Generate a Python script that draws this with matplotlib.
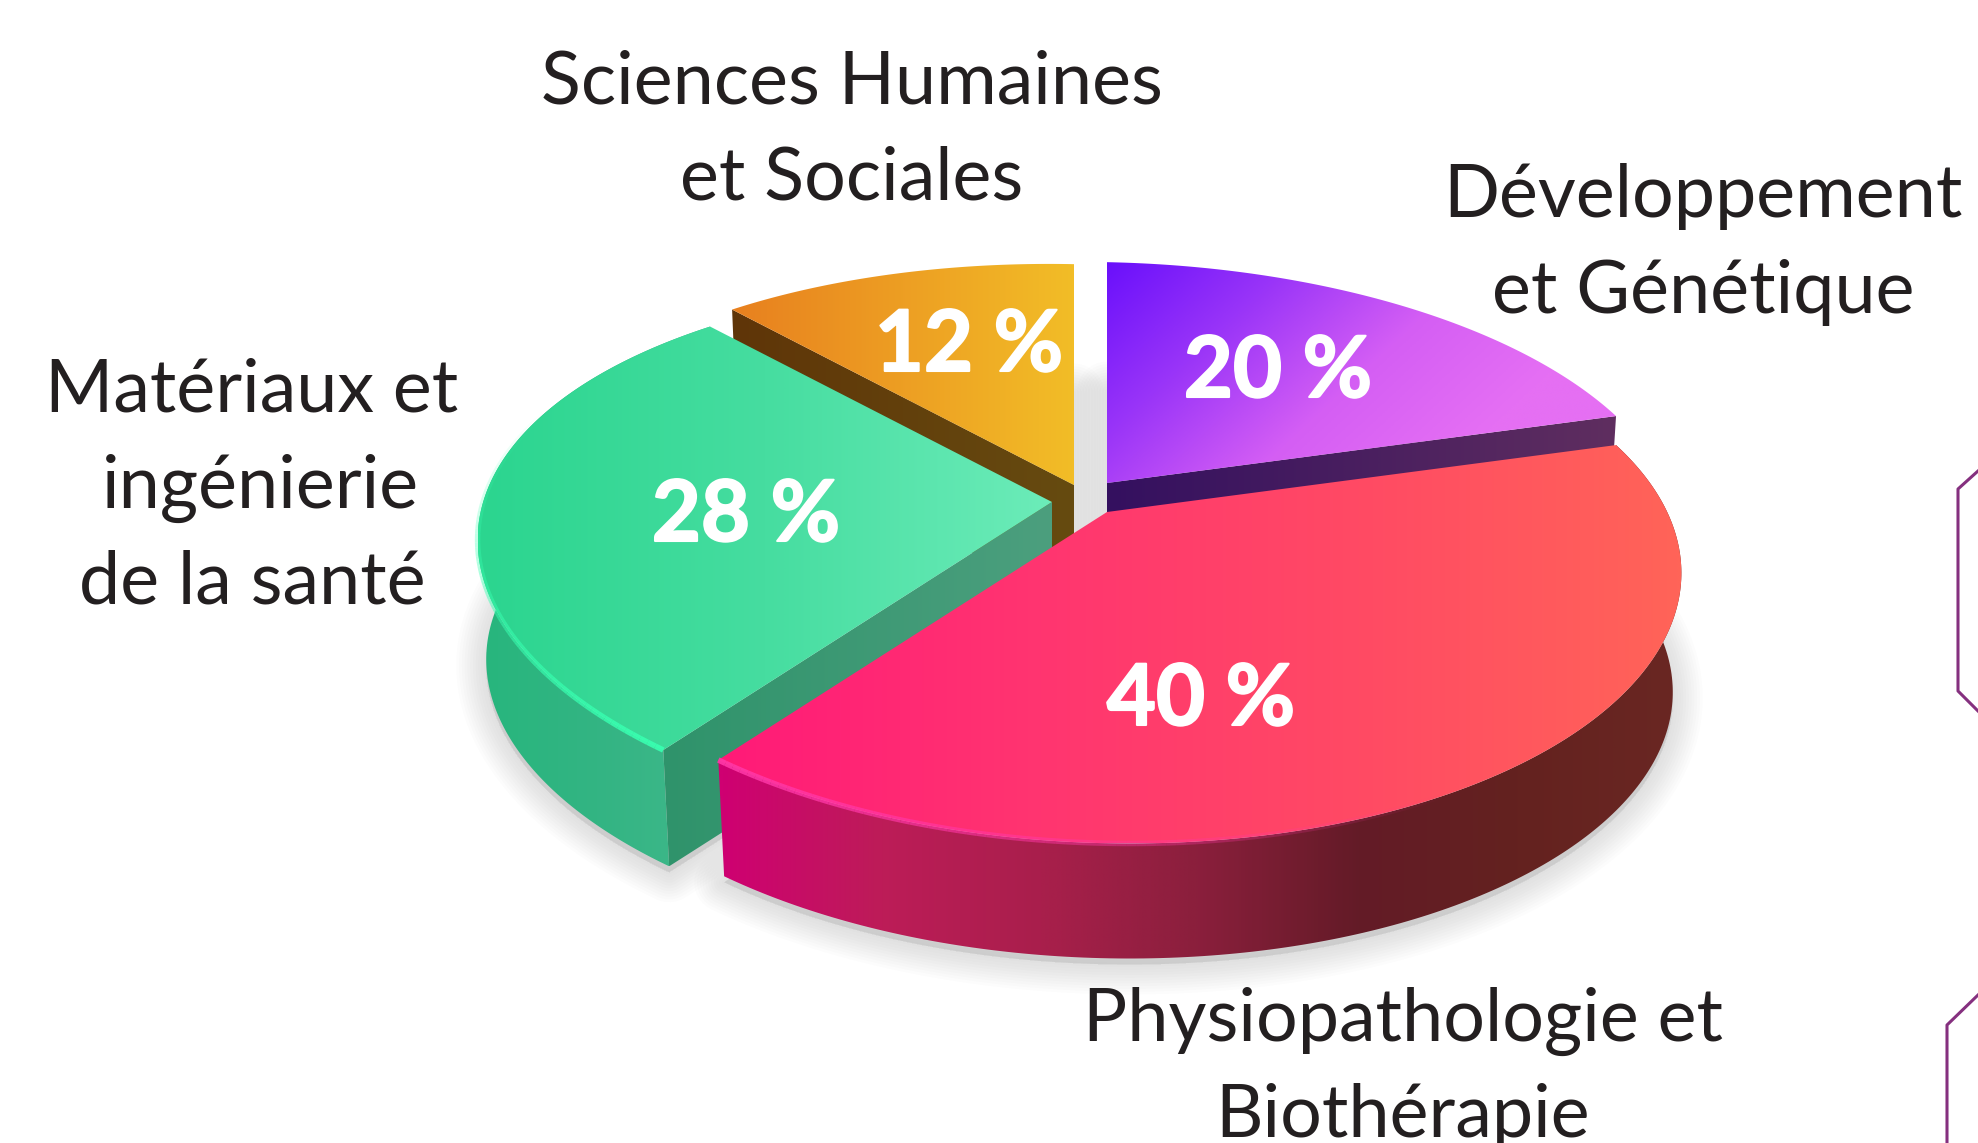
#! /usr/bin/env python3
import matplotlib
matplotlib.use("Agg")
import matplotlib.patheffects as pe
import matplotlib.pyplot as plt
import numpy as np
from matplotlib.collections import LineCollection
from matplotlib.colors import LinearSegmentedColormap
from matplotlib.patches import Polygon

# clockwise from 12 o'clock
labels = ["Développement\net Génétique", "Physiopathologie et\nBiothérapie",
          "Matériaux et\ningénierie\nde la santé", "Sciences Humaines\net Sociales"]
values = [20, 40, 28, 12]

# where each exploded slice has its tip (pixels)
tips = [(1107, 483), (1107, 512), (1052, 502), (1074, 485)]
top_colors = [["#6a10fb", "#9a35f8", "#d45ef4", "#e56ff3", "#e56ff3"],
              ["#ff1a78", "#ff3570", "#ff4a64", "#ff6458"],
              ["#2bd58f", "#46dda0", "#6cecb9"],
              ["#e8801f", "#f2bd27"]]
side_colors = [None,
               ["#cf0072", "#bd1c58", "#a91f4c", "#8a1f3c", "#631b27", "#64221f", "#6a2723"],
               ["#27b67d", "#33b483", "#40b98b"],
               None]
wall_colors = [["#34105f", "#5f2e60"], None, ["#2f936b", "#4c9f7e"], ["#5f3508", "#664b10"]]
label_pos = [(1703, 217), (1403, 1041), (252, 412), (852, 103)]
pct_pos = [(1278, 397), (1201, 725), (746, 541), (969, 371)]

R, S = 565, 265
Q, P = 0.18, 0.2
SHEAR = 0.02
DEPTH = 120
SHRINK = 0.985


def rim(theta, tip, bottom=False):
    t = np.radians(theta)
    u, v = np.cos(t), np.sin(t)
    dx = R * u / (1 + Q * v)
    dy = -S * v / (1 + P * v) + SHEAR * dx
    if bottom:
        return np.column_stack([tip[0] + SHRINK * dx, tip[1] + SHRINK * dy + DEPTH])
    return np.column_stack([tip[0] + dx, tip[1] + dy])


def gradient_fill(ax, pts, colors, z, angle=0):
    patch = Polygon(pts, closed=True, facecolor="none", edgecolor="none", zorder=z)
    ax.add_patch(patch)
    x0, y0 = pts.min(axis=0)
    x1, y1 = pts.max(axis=0)
    X, Y = np.meshgrid(np.linspace(0, 1, 300), np.linspace(0, 1, 300))
    a = np.radians(angle)
    g = X * np.cos(a) + Y * np.sin(a)
    g = (g - g.min()) / (g.max() - g.min())
    cmap = LinearSegmentedColormap.from_list("f", colors)
    im = ax.imshow(g, extent=(x0, x1, y1, y0), cmap=cmap, aspect="auto", zorder=z,
                   interpolation="bilinear")
    im.set_clip_path(patch)


def shadow(ax, pts):
    for lw in range(3, 44, 4):
        ax.add_patch(Polygon(pts + [0, 6], closed=True, facecolor="#b0b0b0", edgecolor="#a8a8a8",
                             lw=lw, alpha=0.03, joinstyle="round", zorder=1))


def highlight(ax, theta, alpha, color, lw, tip, z):
    pts = rim(theta, tip)
    segs = np.stack([pts[:-1], pts[1:]], axis=1)
    rgba = np.tile(matplotlib.colors.to_rgba(color), (len(segs), 1))
    rgba[:, 3] = alpha[:-1]
    ax.add_collection(LineCollection(segs, colors=rgba, linewidths=lw, zorder=z))


plt.rcParams["font.family"] = ["Lato", "DejaVu Sans"]
fig = plt.figure(figsize=(19.78, 11.43), dpi=100)

# pie() only gives the slice angles, the slices are then drawn in perspective
ax_pie = fig.add_axes([0, 0, 0.1, 0.1])
wedges, _ = ax_pie.pie(values, startangle=90, counterclock=False)
angles = [(w.theta1, w.theta2) for w in wedges]
ax_pie.set_visible(False)

ax = fig.add_axes([0, 0, 1, 1])

# back to front
order = [3, 0, 2, 1]
for base, i in enumerate(order):
    th = np.linspace(angles[i][0], angles[i][1], 200)
    tip = np.array(tips[i], dtype=float)
    top = np.vstack([tip, rim(th, tip)])
    foot = np.vstack([tip + [0, DEPTH], rim(th, tip, bottom=True)])
    shadow(ax, foot)
    z = 10 + base * 5
    if side_colors[i] is not None:
        # outer wall between top rim and bottom rim
        side = np.vstack([rim(th, tip), rim(th[::-1], tip, bottom=True)])
        gradient_fill(ax, side, side_colors[i], z)
    if wall_colors[i] is not None:
        # cut face on the edge turned to the viewer
        edge = angles[i][0] if i == 0 else angles[i][1]
        corner_top = rim(np.array([edge]), tip)[0]
        corner_bot = rim(np.array([edge]), tip, bottom=True)[0]
        wall = np.array([tip, corner_top, corner_bot, tip + [0, DEPTH]])
        gradient_fill(ax, wall, wall_colors[i], z + 1)
    gradient_fill(ax, top, top_colors[i], z + 2, angle=25 if i == 0 else 0)

# lit edge on the front of the green and red slices
th = np.linspace(-200, -126, 80)
highlight(ax, th, np.linspace(0, 0.95, 80) ** 1.2, "#38ffb0", 4, tips[2], 22)
th = np.linspace(-126, -60, 80)
highlight(ax, th, np.linspace(0.9, 0, 80), "#ff38a8", 4, tips[1], 27)

for lab, (x, y) in zip(labels, label_pos):
    for k, line in enumerate(lab.split("\n")):
        dx = 8 if line == "ingénierie" else 0
        ax.text(x + dx, y + 96 * k, line, ha="center", va="baseline", fontsize=53,
                color="#231f20", zorder=40)

for v, (x, y) in zip(values, pct_pos):
    ax.text(x, y, f"{v} %", ha="center", va="baseline", fontsize=61, fontweight="bold",
            color="white", zorder=40,
            path_effects=[pe.withStroke(linewidth=1.5, foreground="white")])

# hexagon outlines cut by the right edge of the slide
ax.plot([1978, 1958, 1958, 1978], [471, 489, 691, 711], color="#85307f", lw=2.2, zorder=5)
ax.plot([1978, 1947, 1947], [995, 1025, 1143], color="#85307f", lw=2.2, zorder=5)

ax.set_xlim(0, 1978)
ax.set_ylim(1143, 0)
ax.axis("off")
fig.savefig("out.png", dpi=100, facecolor="white")
